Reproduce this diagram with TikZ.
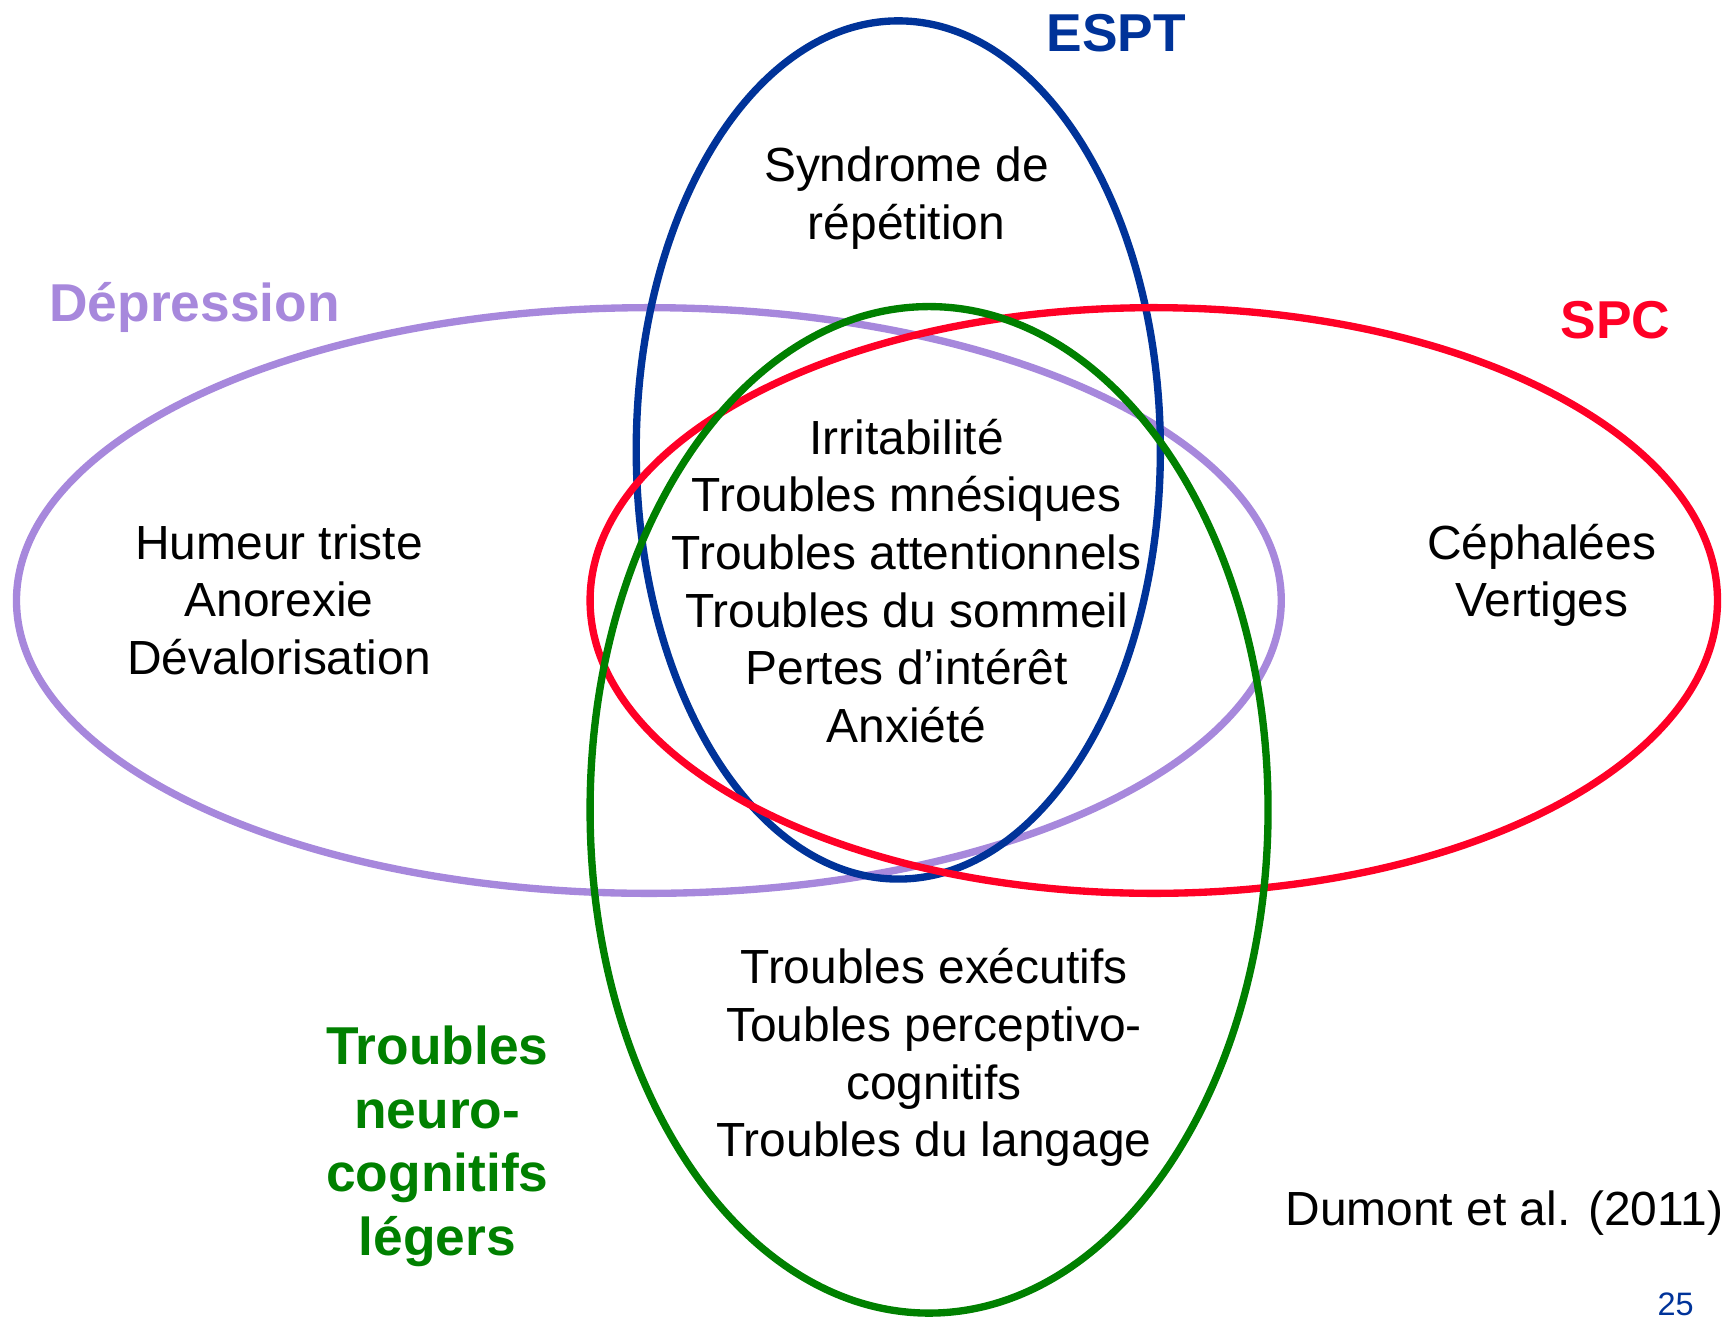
\documentclass[tikz,border=0pt]{standalone}
\usepackage{fontspec}
\setmainfont{Liberation Sans}
\definecolor{espt}{RGB}{0,51,153}
\definecolor{depr}{RGB}{167,136,220}
\definecolor{spc}{RGB}{255,0,38}
\definecolor{tnc}{RGB}{0,128,0}
\begin{document}
\begin{tikzpicture}[x=0.01cm,y=-0.01cm,
  ring/.style={line width=1.9pt},
  txt/.style={font=\fontsize{12.4}{14.9}\selectfont,align=center,inner sep=0pt},
  lbl/.style={font=\fontsize{13.8}{16.5}\selectfont\bfseries,align=center,inner sep=0pt}]
\useasboundingbox (0,0) rectangle (1568,1201);
% the four sets
\draw[ring,depr] (590.5,546.5) ellipse [x radius=575.5,y radius=266.5];
\draw[ring,espt] (817.5,409.5) ellipse [x radius=238.5,y radius=390.5];
\draw[ring,spc] (1050,546.5) ellipse [x radius=513,y radius=266.5];
\draw[ring,tnc] (845.5,737) ellipse [x radius=308.5,y radius=458];
% set names
\node[lbl,espt,anchor=base] (ESPT) at (1016,47) {ESPT};
\node[lbl,depr,anchor=base] (DEP) at (177,293) {Dépression};
\node[lbl,spc,anchor=base] (SPC) at (1470,308) {SPC};
\node[lbl,tnc] (TNC) at (398,1044) {\strut Troubles\\\strut neuro-\\\strut cognitifs\\\strut légers};
% symptoms
\node[txt] (rep) at (825,181) {\strut Syndrome de\\\strut répétition};
\node[txt] (core) at (825,534) {\strut Irritabilité\\\strut Troubles mnésiques\\\strut Troubles attentionnels\\\strut Troubles du sommeil\\\strut Pertes d’intérêt\\\strut Anxiété};
\node[txt] (hum) at (254,551) {\strut Humeur triste\\\strut Anorexie\\\strut Dévalorisation};
\node[txt] (ceph) at (1403,524.5) {\strut Céphalées\\\strut Vertiges};
\node[txt] (exec) at (850,963.5) {\strut Troubles exécutifs\\\strut Toubles perceptivo-\\\strut cognitifs\\\strut Troubles du langage};
% source and page
\node[txt,anchor=base] (src) at (1369,1115) {Dumont et al. (2011)};
\node[inner sep=0pt,espt,anchor=base,font=\fontsize{8.4}{10}\selectfont] (page) at (1525,1197) {25};
\end{tikzpicture}
\end{document}
